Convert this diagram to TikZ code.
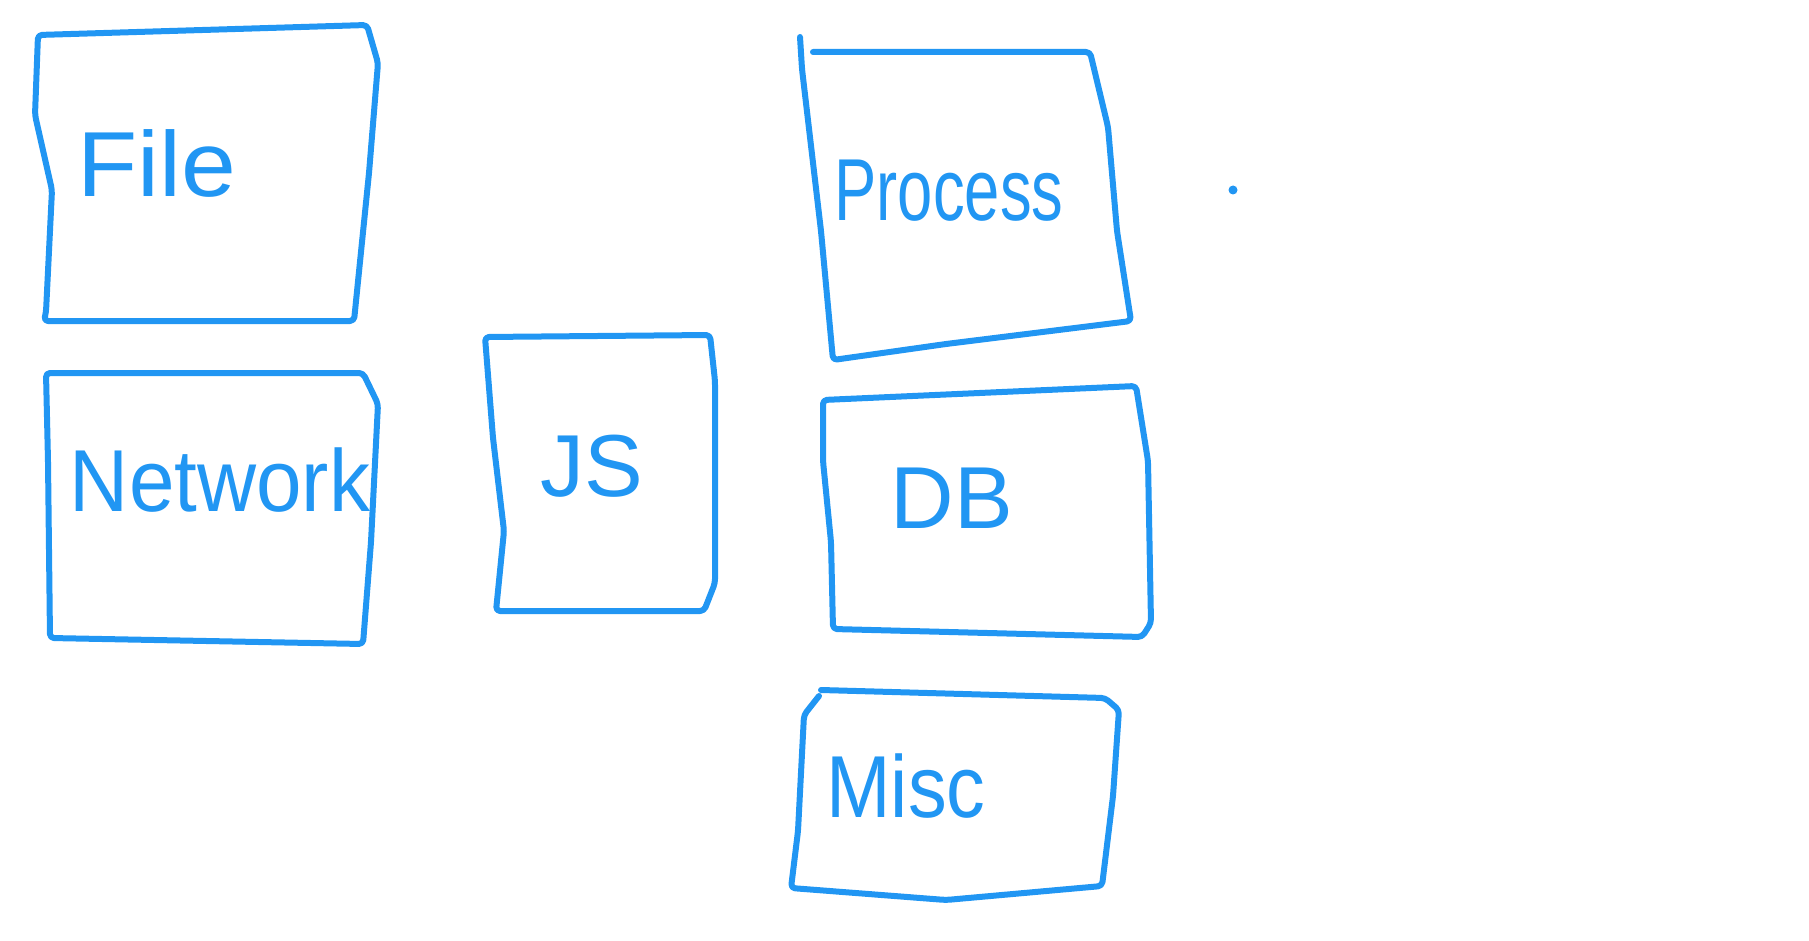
\documentclass[tikz,border=0pt]{standalone}
\usepackage{fontspec}
\setmainfont{Liberation Sans}
\definecolor{sketchblue}{HTML}{2196F3}
\tikzset{
  sketchbox/.style={draw=sketchblue, line width=3pt, line join=round, line cap=round, rounded corners=2pt},
  sketchlabel/.style={text=sketchblue, font=\fontsize{44}{50}\selectfont, inner sep=0pt}
}
\begin{document}
\begin{tikzpicture}[x=0.5pt,y=-0.5pt]
\useasboundingbox (0,0) rectangle (1809,941);
% File
\draw[sketchbox] (38,35) -- (367,25) -- (378,63) -- (369,173) -- (354,321) -- (44,321) -- (46,312) -- (52,190) -- (35,115) -- cycle;
\node[sketchlabel] (file) at (157,163) {\scalebox{1.12}[1.05]{File}};
% Network
\draw[sketchbox] (46,373) -- (363,373) -- (378,404) -- (371,542) -- (363,644) -- (50,638) -- (48,461) -- cycle;
\node[sketchlabel] (network) at (220,480) {\scalebox{0.93}[1]{Network}};
% JS
\draw[sketchbox] (485,337) -- (710,335) -- (715,381) -- (715,583) -- (704,611) -- (496,611) -- (504,531) -- (493,438) -- cycle;
\node[sketchlabel] (js) at (592,466) {JS};
% Process
\draw[sketchbox] (813,52) -- (1090,52) -- (1108,127) -- (1117,231) -- (1131,321) -- (946,344) -- (833,360) -- (821,231) -- (802,69) -- (800,37);
\node[sketchlabel] (process) at (949,191) {\scalebox{0.72}[1]{Process}};
% DB
\draw[sketchbox] (823,400) -- (1136,386) -- (1148,461) -- (1151,623) -- (1142,637) -- (833,629) -- (831,542) -- (823,461) -- cycle;
\node[sketchlabel] (db) at (952,498) {DB};
% Misc
\draw[sketchbox] (821,690) -- (1105,698) -- (1119,710) -- (1113,796) -- (1102,886) -- (946,900) -- (791,888) -- (798,831) -- (804,715) -- (819,696);
\node[sketchlabel] (misc) at (906,786) {\scalebox{0.88}[1]{Misc}};
% dot
\fill[sketchblue] (1233,190) circle (4.5);
\end{tikzpicture}
\end{document}
